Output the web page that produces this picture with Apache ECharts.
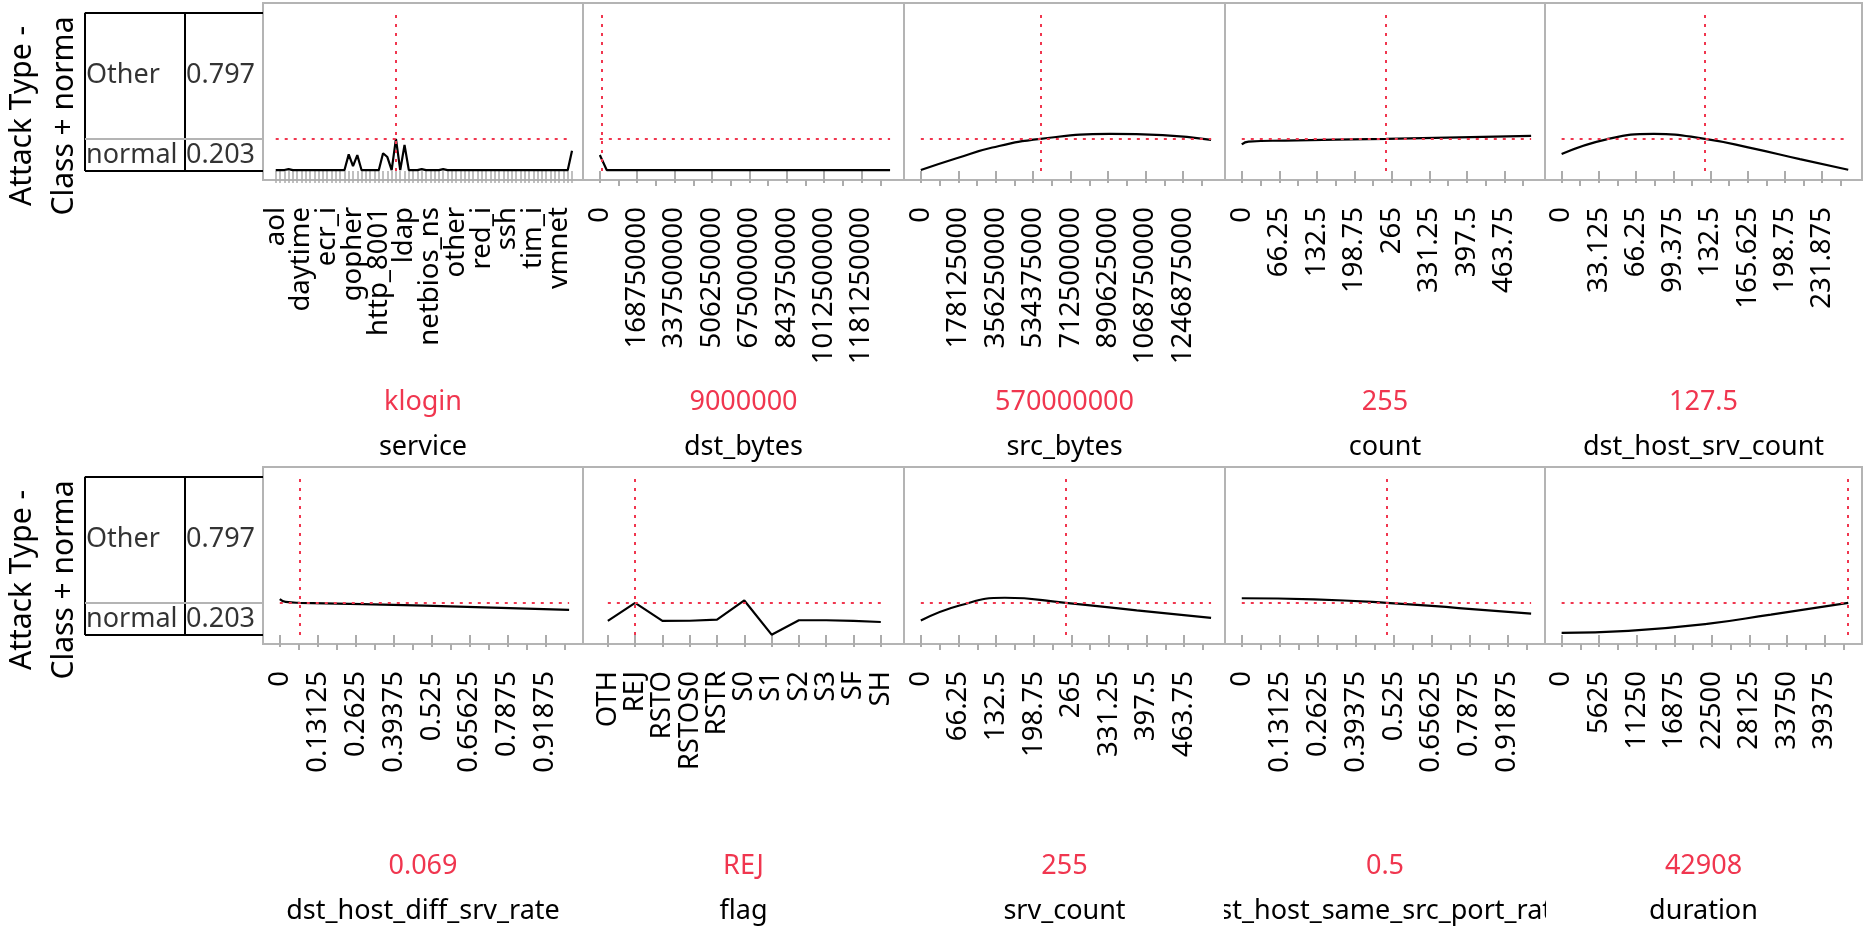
<!DOCTYPE html>
<html>
<head>
<meta charset="utf-8">
<script src="https://cdn.jsdelivr.net/npm/echarts@6/dist/echarts.min.js"></script>
<style>
  html, body { margin: 0; padding: 0; background: #fff; }
  #chart { width: 1864px; height: 928px; }
</style>
</head>
<body>
<div id="chart"></div>
<script>
// response levels and predicted probabilities at current settings
const responseLevels = ['Other', 'normal'];
const responseProbs = [0.797, 0.203];

// service (nominal factor)
const serviceCats = ['aol','auth','bgp','courier','csnet_ns','ctf','daytime','discard','domain','domain_u',
  'echo','eco_i','ecr_i','efs','exec','finger','ftp','ftp_data','gopher','harvest',
  'hostnames','http','http_2784','http_443','http_8001','imap4','IRC','iso_tsap','klogin','kshell',
  'ldap','link','login','mtp','name','netbios_dgm','netbios_ns','netbios_ssn','netstat','nnsp',
  'nntp','ntp_u','other','pm_dump','pop_2','pop_3','printer','private','red_i','remote_job',
  'rje','shell','smtp','sql_net','ssh','sunrpc','supdup','systat','telnet','tftp_u',
  'tim_i','time','urh_i','urp_i','uucp','uucp_path','vmnet','whois','X11','Z39_50'];
const serviceVals = [0.005,0.005,0.006,0.012,0.005,0.005,0.005,0.005,0.005,0.005,
  0.005,0.005,0.005,0.005,0.005,0.005,0.005,0.105,0.030,0.100,
  0.005,0.005,0.005,0.005,0.005,0.112,0.088,0.005,0.203,0.005,
  0.164,0.005,0.005,0.005,0.012,0.005,0.005,0.005,0.005,0.012,
  0.005,0.005,0.005,0.005,0.005,0.005,0.005,0.005,0.005,0.005,
  0.005,0.005,0.005,0.005,0.005,0.005,0.005,0.005,0.005,0.005,
  0.005,0.005,0.005,0.005,0.005,0.005,0.005,0.005,0.005,0.128];

// flag (nominal factor)
const flagCats = ['OTH','REJ','RSTO','RSTOS0','RSTR','S0','S1','S2','S3','SF','SH'];
const flagVals = [0.089,0.203,0.089,0.090,0.097,0.218,0.002,0.093,0.093,0.089,0.082];

// continuous factors: profile curves
const dstBytesX = [0, 31000000, 1309937401];
const dstBytesY = [0.101, 0.006, 0.006];
const srcBytesX = [0, 170000000, 340000000, 570000000, 900000000, 1150000000, 1379963888];
const srcBytesY = [0.006, 0.080, 0.148, 0.203, 0.234, 0.226, 0.196];
const countX = [0, 12, 76, 255, 511];
const countY = [0.168, 0.185, 0.192, 0.203, 0.222];
const dstHostSrvCountX = [0, 40, 82, 127.5, 170, 212, 255];
const dstHostSrvCountY = [0.107, 0.200, 0.234, 0.203, 0.143, 0.075, 0.008];
const diffSrvRateX = [0, 0.02, 0.069, 0.5, 1.0];
const diffSrvRateY = [0.226, 0.209, 0.203, 0.186, 0.159];
const srvCountX = [0, 68, 148, 255, 380, 511];
const srvCountY = [0.091, 0.186, 0.235, 0.203, 0.155, 0.108];
const samePortRateX = [0, 0.25, 0.5, 0.75, 1.0];
const samePortRateY = [0.232, 0.225, 0.203, 0.170, 0.135];
const durationX = [0, 10000, 21780, 31320, 42908];
const durationY = [0.013, 0.026, 0.070, 0.129, 0.203];

// tick labels
const dstBytesTicks = ['0','168750000','337500000','506250000','675000000','843750000','1012500000','1181250000'];
const srcBytesTicks = ['0','178125000','356250000','534375000','712500000','890625000','1068750000','1246875000'];
const countTicks = ['0','66.25','132.5','198.75','265','331.25','397.5','463.75'];
const dstHostSrvCountTicks = ['0','33.125','66.25','99.375','132.5','165.625','198.75','231.875'];
const rateTicks = ['0','0.13125','0.2625','0.39375','0.525','0.65625','0.7875','0.91875'];
const durationTicks = ['0','5625','11250','16875','22500','28125','33750','39375'];

// factor names and current settings
const factorNames = ['service','dst_bytes','src_bytes','count','dst_host_srv_count',
  'dst_host_diff_srv_rate','flag','srv_count','dst_host_same_src_port_rate','duration'];
const currentLabels = ['klogin','9000000','570000000','255','127.5','0.069','REJ','255','0.5','42908'];
const currentValues = [28, 9000000, 570000000, 255, 127.5, 0.069, 1, 255, 0.5, 42908];

const FONT = '"Noto Sans", "DejaVu Sans", sans-serif';
const RED = '#f0364f';
const BORDER = '#b4b4b4';
const TICK = '#acacac';

const panels = [
  { cats: serviceCats, vals: serviceVals, min: -2.96, max: 71.56, labelStep: 6 },
  { x: dstBytesX, y: dstBytesY, ticks: dstBytesTicks },
  { x: srcBytesX, y: srcBytesY, ticks: srcBytesTicks, smooth: true },
  { x: countX, y: countY, ticks: countTicks, smooth: true },
  { x: dstHostSrvCountX, y: dstHostSrvCountY, ticks: dstHostSrvCountTicks, smooth: true },
  { x: diffSrvRateX, y: diffSrvRateY, ticks: rateTicks, smooth: true },
  { cats: flagCats, vals: flagVals, min: -0.91, max: 10.85, labelStep: 1 },
  { x: srvCountX, y: srvCountY, ticks: countTicks, smooth: true },
  { x: samePortRateX, y: samePortRateY, ticks: rateTicks, smooth: true },
  { x: durationX, y: durationY, ticks: durationTicks, smooth: true }
];

const rowTop = [3, 467];
const panelH = 177;
const panelLeft = [263, 583, 904, 1225, 1545];
const panelW = [320, 321, 321, 320, 317];
const Y_MIN = -0.057, Y_MAX = 1.061;

const grid = [], xAxis = [], yAxis = [], series = [], graphic = [];
const fmt = v => String(+v.toPrecision(12));

const tickFont = { fontSize: 27.5, fontFamily: FONT, color: '#000' };
const tableFont = { fontSize: 27, fontFamily: FONT, color: '#000' };

// response tables on the left of each row
rowTop.forEach((top, r) => {
  const gi = grid.length;
  grid.push({ left: 85, width: 178, top: top + 9.66, height: 158.3 });
  xAxis.push({ gridIndex: gi, type: 'value', min: 0, max: 1, show: false });
  yAxis.push({ gridIndex: gi, type: 'value', min: 0, max: 1, show: false });
  const split = responseProbs[1];
  const colX = 0.562;
  const black = { color: '#000', width: 2, type: 'solid' };
  series.push({
    type: 'scatter', xAxisIndex: xAxis.length - 1, yAxisIndex: yAxis.length - 1,
    symbolSize: 0, silent: true,
    label: { show: true, position: 'right', distance: 1, formatter: '{b}', ...tableFont },
    data: [
      { name: responseLevels[0], value: [0, (1 + split) / 2] },
      { name: responseProbs[0].toFixed(3), value: [colX, (1 + split) / 2] },
      { name: responseLevels[1], value: [0, split / 2] },
      { name: responseProbs[1].toFixed(3), value: [colX, split / 2] }
    ],
    markLine: {
      silent: true, symbol: ['none', 'none'], label: { show: false }, animation: false,
      data: [
        [{ coord: [0, 1], lineStyle: black }, { coord: [1, 1] }],
        [{ coord: [0, 0], lineStyle: black }, { coord: [1, 0] }],
        [{ coord: [0, 0], lineStyle: black }, { coord: [0, 1] }],
        [{ coord: [colX, 0], lineStyle: black }, { coord: [colX, 1] }],
        [{ coord: [0, split], lineStyle: { color: BORDER, width: 2, type: 'solid' } }, { coord: [1, split] }]
      ]
    }
  });
  // response title
  graphic.push({
    type: 'text', x: 22, y: 116 + r * 464, rotation: Math.PI / 2,
    style: { text: 'Attack Type -', fontSize: 30, fontFamily: FONT, fill: '#000', textAlign: 'center', textVerticalAlign: 'middle' }
  });
  graphic.push({
    type: 'text', x: 64, y: 116 + r * 464, rotation: Math.PI / 2,
    style: { text: 'Class + norma', fontSize: 30, fontFamily: FONT, fill: '#000', textAlign: 'center', textVerticalAlign: 'middle' }
  });
});

// an x axis that only draws ticks, or only labels
function tickAxis(gi, min, max, values, length, width) {
  return {
    gridIndex: gi, type: 'value', min, max, position: 'bottom',
    axisLine: { show: false }, splitLine: { show: false },
    axisTick: { show: true, customValues: values, length, lineStyle: { color: TICK, width } },
    axisLabel: { show: false }
  };
}
function labelAxis(gi, min, max, values, formatter) {
  return {
    gridIndex: gi, type: 'value', min, max, position: 'bottom',
    axisLine: { show: false }, splitLine: { show: false }, axisTick: { show: false },
    axisLabel: { show: true, customValues: values, rotate: 90, margin: 27, formatter,
      showMinLabel: true, showMaxLabel: true, ...tickFont }
  };
}

// profile panels
panels.forEach((p, i) => {
  const r = Math.floor(i / 5), c = i % 5;
  const gi = grid.length;
  grid.push({
    left: panelLeft[c], width: panelW[c], top: rowTop[r], height: panelH,
    show: true, borderColor: BORDER, borderWidth: 2, backgroundColor: 'transparent'
  });
  let data, min, max, dmin, dmax, tickVals, labelVals, minorVals = null, formatter;
  if (p.cats) {
    data = p.vals.map((v, k) => [k, v]);
    min = p.min; max = p.max; dmin = 0; dmax = p.cats.length - 1;
    tickVals = p.cats.map((_, k) => k);
    labelVals = tickVals.filter(k => k % p.labelStep === 0);
    formatter = v => p.cats[Math.round(v)];
  } else {
    data = p.x.map((v, k) => [v, p.y[k]]);
    dmin = p.x[0]; dmax = p.x[p.x.length - 1];
    const range = dmax - dmin;
    min = dmin - 0.058 * range; max = dmax + 0.048 * range;
    tickVals = p.ticks.map(Number);
    labelVals = tickVals;
    const step = tickVals[1] - tickVals[0];
    minorVals = tickVals.map(v => v + step / 2);
    formatter = fmt;
  }
  xAxis.push(tickAxis(gi, min, max, tickVals, 12, p.cats && p.cats.length > 20 ? 1.5 : 2));
  const xi = xAxis.length - 1;
  if (minorVals) xAxis.push(tickAxis(gi, min, max, minorVals, 6, 2));
  // neighbouring labels go on two axes so none of them gets dropped
  xAxis.push(labelAxis(gi, min, max, labelVals.filter((_, k) => k % 2 === 0), formatter));
  xAxis.push(labelAxis(gi, min, max, labelVals.filter((_, k) => k % 2 === 1), formatter));

  yAxis.push({ gridIndex: gi, type: 'value', min: Y_MIN, max: Y_MAX, show: false });
  const yi = yAxis.length - 1;
  const cur = currentValues[i];
  const pred = responseProbs[1];
  series.push({
    type: 'line', xAxisIndex: xi, yAxisIndex: yi, data,
    showSymbol: false, silent: true, animation: false,
    smooth: p.smooth ? 0.5 : false,
    lineStyle: { color: '#000', width: 2.2 },
    markLine: {
      silent: true, symbol: ['none', 'none'], label: { show: false }, animation: false,
      lineStyle: { color: RED, width: 2, type: [3, 6] },
      data: [
        [{ coord: [dmin, pred] }, { coord: [dmax, pred] }],
        [{ coord: [cur, 0] }, { coord: [cur, 1] }]
      ]
    }
  });
  const cx = panelLeft[c] + panelW[c] / 2;
  graphic.push({
    type: 'text', x: cx, y: 402 + r * 464,
    style: { text: currentLabels[i], fontSize: 27, fontFamily: FONT, fill: RED, textAlign: 'center', textVerticalAlign: 'middle' }
  });
  graphic.push({
    type: 'text', x: cx, y: 447 + r * 464,
    style: { text: factorNames[i], fontSize: 27, fontFamily: FONT, fill: '#000', textAlign: 'center', textVerticalAlign: 'middle' }
  });
});

// long factor names are clipped to their panel width
graphic.push({ type: 'rect', z: 100, shape: { x: 1180, y: 885, width: 44, height: 43 }, style: { fill: '#fff' } });
graphic.push({ type: 'rect', z: 100, shape: { x: 1546, y: 885, width: 44, height: 43 }, style: { fill: '#fff' } });

const chart = echarts.init(document.getElementById('chart'));
chart.setOption({
  animation: false,
  backgroundColor: '#fff',
  grid, xAxis, yAxis, series, graphic
});
</script>
</body>
</html>
